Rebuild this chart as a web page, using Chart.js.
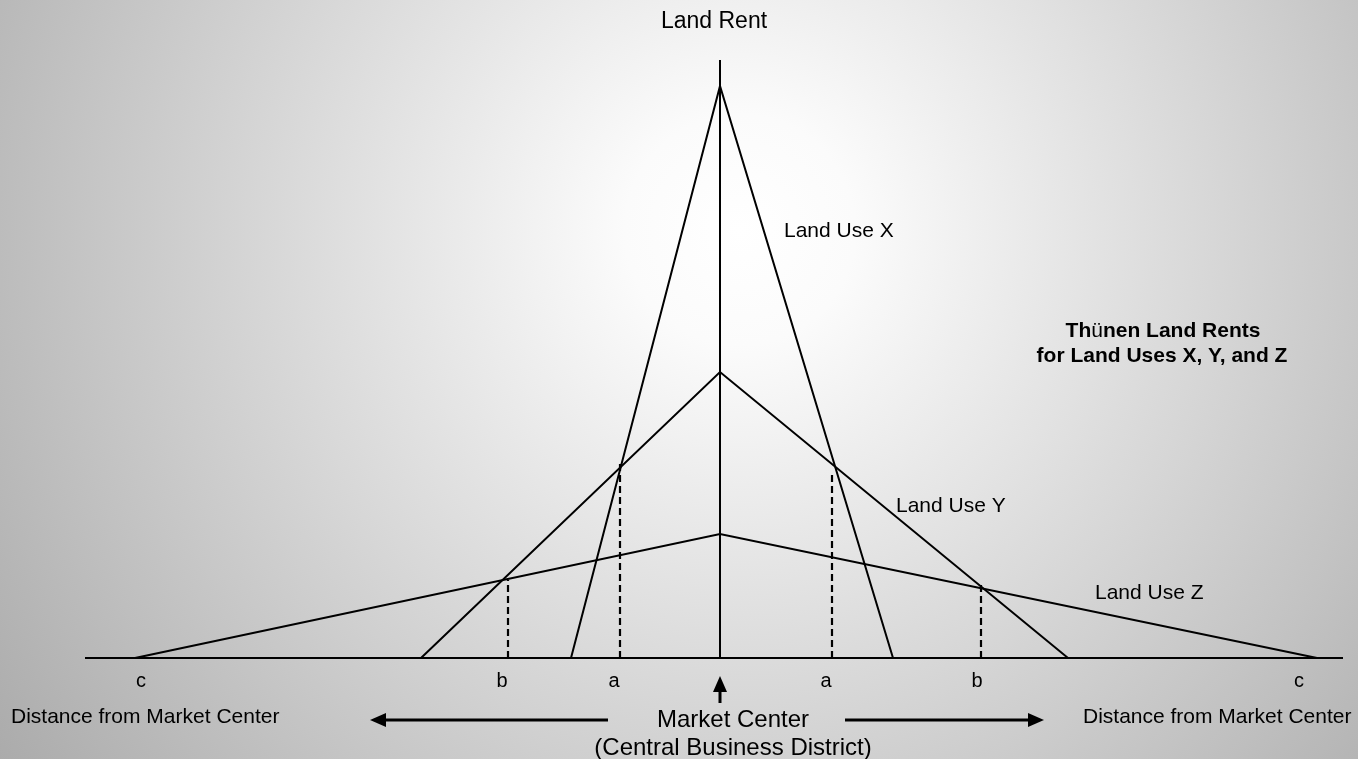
<!DOCTYPE html>
<html>
	<head>
		<style>
			body { margin: 0; background: #ddd; }
			canvas { display: block; }
		</style>
		<title>Thunen Land Rents</title>
	</head>
	<body>
		<canvas id="canvas1" width="1358" height="759"></canvas>
		<script src="https://cdn.jsdelivr.net/npm/chart.js@4/dist/chart.umd.min.js"></script>
		<script>
			// distance from market center (negative = left side) and land rent
			var useXDist = [-14.9, 0, 17.3];
			var useXRent = [0, 57.2, 0];
			var useYDist = [-29.9, 0, 34.8];
			var useYRent = [0, 28.6, 0];
			var useZDist = [-58.5, 0, 59.7];
			var useZRent = [0, 12.4, 0];

			// dashed drop lines where the rent curves cross
			var dropDist = [-21.2, -10.0, 11.2, 26.1];
			var dropRent = [7.8, 19.8, 18.7, 7.3];

			// letters under the distance axis
			var tickLabels = ['c', 'b', 'a', 'a', 'b', 'c'];
			var tickDist = [-57.9, -21.8, -10.6, 10.6, 25.7, 57.9];

			var axisDist = [-63.5, 62.3];
			var axisRent = [0, 59.8];

			var FONT = '"Liberation Sans", Arial, sans-serif';

			function pts(xs, ys) {
				var out = [];
				for (var i = 0; i < xs.length; i++) out.push({x: xs[i], y: ys[i]});
				return out;
			}

			function lineSet(data, dash, width) {
				return {
					data: data,
					borderColor: '#000',
					borderWidth: width || 2,
					borderDash: dash || [],
					pointRadius: 0,
					fill: false,
					tension: 0,
					clip: false
				};
			}

			var datasets = [
				lineSet(pts(axisDist, [0, 0])),
				lineSet(pts([0, 0], axisRent)),
				lineSet(pts(useXDist, useXRent)),
				lineSet(pts(useYDist, useYRent)),
				lineSet(pts(useZDist, useZRent))
			];
			for (var i = 0; i < dropDist.length; i++) {
				datasets.push(lineSet(pts([dropDist[i], dropDist[i]], [0, dropRent[i]]), [7, 4], 2.2));
			}

			var background = {
				id: 'background',
				beforeDraw: function (chart) {
					var c = chart.ctx;
					var g = c.createRadialGradient(740, 230, 0, 740, 230, 960);
					g.addColorStop(0, '#ffffff');
					g.addColorStop(0.12, '#fbfbfb');
					g.addColorStop(1, '#a6a6a6');
					c.save();
					c.fillStyle = g;
					c.fillRect(0, 0, chart.width, chart.height);
					c.restore();
				}
			};

			function arrowHead(c, tx, ty, dx, dy, len, half) {
				// tip at (tx,ty), pointing along (dx,dy)
				var px = -dy, py = dx;
				c.beginPath();
				c.moveTo(tx, ty);
				c.lineTo(tx - dx * len + px * half, ty - dy * len + py * half);
				c.lineTo(tx - dx * len - px * half, ty - dy * len - py * half);
				c.closePath();
				c.fill();
			}

			var labels = {
				id: 'labels',
				afterDraw: function (chart) {
					var c = chart.ctx;
					var xs = chart.scales.x, ys = chart.scales.y;
					var cx = xs.getPixelForValue(0);
					var base = ys.getPixelForValue(0);
					c.save();
					c.fillStyle = '#000';
					c.strokeStyle = '#000';
					c.textBaseline = 'alphabetic';

					c.font = '23px ' + FONT;
					c.textAlign = 'center';
					c.fillText('Land Rent', cx - 6, 28);

					c.font = '21px ' + FONT;
					c.textAlign = 'left';
					c.fillText('Land Use X', 784, 237);
					c.fillText('Land Use Y', 896, 512);
					c.fillText('Land Use Z', 1095, 599);

					// title, with the plain ü as in the original
					var parts = [['Th', 'bold 21px '], ['\u00fc', '21px '], ['nen Land Rents', 'bold 21px ']];
					var w = 0;
					parts.forEach(function (p) { c.font = p[1] + FONT; w += c.measureText(p[0]).width; });
					var x0 = 1163 - w / 2;
					parts.forEach(function (p) {
						c.font = p[1] + FONT;
						c.fillText(p[0], x0, 337);
						x0 += c.measureText(p[0]).width;
					});
					c.font = 'bold 21px ' + FONT;
					c.textAlign = 'center';
					c.fillText('for Land Uses X, Y, and Z', 1162, 362);

					c.font = '20px ' + FONT;
					for (var i = 0; i < tickLabels.length; i++) {
						c.fillText(tickLabels[i], xs.getPixelForValue(tickDist[i]), base + 29);
					}

					c.font = '21px ' + FONT;
					c.textAlign = 'left';
					c.fillText('Distance from Market Center', 11, 723);
					c.fillText('Distance from Market Center', 1083, 723);

					c.font = '24px ' + FONT;
					c.textAlign = 'center';
					c.fillText('Market Center', cx + 13, 727);
					c.fillText('(Central Business District)', cx + 13, 755);

					// up arrow at the market center
					c.lineWidth = 3;
					c.beginPath();
					c.moveTo(cx, base + 45);
					c.lineTo(cx, base + 30);
					c.stroke();
					arrowHead(c, cx, base + 18, 0, -1, 16, 7);

					// horizontal arrows
					var ay = 720;
					c.beginPath();
					c.moveTo(608, ay);
					c.lineTo(382, ay);
					c.moveTo(845, ay);
					c.lineTo(1030, ay);
					c.stroke();
					arrowHead(c, 370, ay, -1, 0, 16, 7);
					arrowHead(c, 1044, ay, 1, 0, 16, 7);

					c.restore();
				}
			};

			var ctx1 = document.getElementById('canvas1').getContext('2d');
			var Chart1 = new Chart(ctx1, {
				type: 'line',
				data: { datasets: datasets },
				options: {
					responsive: false,
					animation: false,
					parsing: true,
					layout: { padding: { left: 85, right: 15, top: 60, bottom: 101 } },
					plugins: { legend: { display: false }, tooltip: { enabled: false } },
					scales: {
						x: { type: 'linear', display: false, min: axisDist[0], max: axisDist[1] },
						y: { type: 'linear', display: false, min: axisRent[0], max: axisRent[1] }
					}
				},
				plugins: [background, labels]
			});
		</script>
	</body>
</html>
